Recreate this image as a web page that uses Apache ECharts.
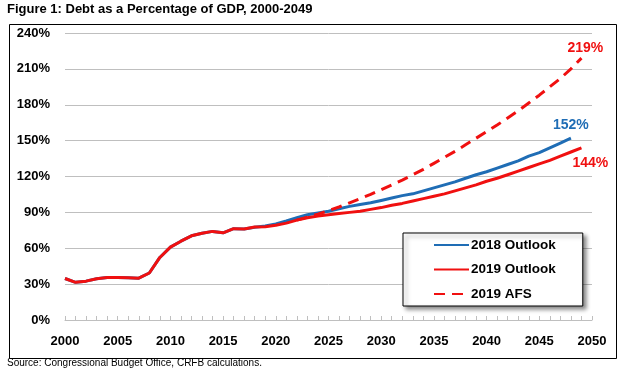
<!DOCTYPE html>
<html><head><meta charset="utf-8">
<script src="https://cdn.jsdelivr.net/npm/echarts@6/dist/echarts.min.js"></script>
<style>html,body{margin:0;padding:0;background:#fff;}#c{width:624px;height:378px;}</style>
</head><body><div id="c"></div>
<script>
var histYears = [2000,2001,2002,2003,2004,2005,2006,2007,2008,2009,2010,2011,2012,2013,2014,2015,2016,2017];
var histValues = [34.7,31.5,32.5,34.5,35.5,35.6,35.4,35.0,39.3,52.3,60.9,65.9,70.4,72.6,74.1,72.9,76.4,76.1];
var outlook2018Years = [2018,2019,2020,2021,2022,2023,2024,2025,2026,2027,2028,2029,2030,2031,2032,2033,2034,2035,2036,2037,2038,2039,2040,2041,2042,2043,2044,2045,2046,2047,2048];
var outlook2018Values = [77.6,78.6,80.3,82.8,85.5,88.0,89.5,91.0,93.0,95.0,96.5,98.0,100.0,102.0,104.0,105.5,108.0,110.5,113.0,115.5,118.5,121.5,124.0,127.0,130.0,133.0,137.0,140.0,144.0,148.0,152.0];
var outlook2019Years = [2018,2019,2020,2021,2022,2023,2024,2025,2026,2027,2028,2029,2030,2031,2032,2033,2034,2035,2036,2037,2038,2039,2040,2041,2042,2043,2044,2045,2046,2047,2048,2049];
var outlook2019Values = [77.8,78.0,79.2,81.0,83.5,85.5,87.0,88.0,89.0,90.0,91.0,92.5,94.0,96.0,97.5,99.5,101.5,103.5,105.5,108.0,110.5,113.0,116.0,118.5,121.5,124.5,127.5,130.5,133.5,137.0,140.5,144.0];
var afsYears = [2022,2023,2024,2025,2026,2027,2028,2029,2030,2031,2032,2033,2034,2035,2036,2037,2038,2039,2040,2041,2042,2043,2044,2045,2046,2047,2048,2049];
var afsValues = [83.5,86.0,88.5,91.5,94.5,98.0,101.5,105.0,109.0,113.0,117.0,121.5,126.0,131.0,136.0,141.0,146.5,152.0,157.5,163.0,169.0,175.0,181.5,188.0,195.0,202.0,210.0,219.0];
var seriesNames = ['2018 Outlook','2019 Outlook','2019 AFS'];
var endLabels = ['152%','144%','219%'];

function pairs(ys, vs){ return ys.map(function(y,i){ return [y, vs[i]]; }); }
var blueData = pairs(histYears, histValues).concat(pairs(outlook2018Years, outlook2018Values));
var redData = pairs(histYears, histValues).concat(pairs(outlook2019Years, outlook2019Values));
var afsData = pairs(afsYears, afsValues);

var BLUE = '#1F6DB5', RED = '#F01010';
var chart = echarts.init(document.getElementById('c'), null, {renderer:'canvas'});
var FONT = '"Liberation Sans", Arial, sans-serif';
chart.setOption({
  animation:false,
  backgroundColor:'#fff',
  textStyle:{fontFamily:FONT},
  grid:{left:65, right:32, top:33, bottom:58, containLabel:false},
  xAxis:{type:'value', min:2000, max:2050, interval:5,
    axisLine:{show:true, lineStyle:{color:'#BFBFBF', width:1}},
    axisTick:{show:true, inside:true, length:4, lineStyle:{color:'#BFBFBF'}},
    minorTick:{show:true, splitNumber:5, length:4, lineStyle:{color:'#BFBFBF'}},
    splitLine:{show:false},
    axisLabel:{color:'#000', fontWeight:'bold', fontSize:13, margin:15, fontFamily:FONT,
      formatter:function(v){return String(v);}}
  },
  yAxis:{type:'value', min:0, max:240, interval:30,
    axisLine:{show:false}, axisTick:{show:false},
    splitLine:{show:true, lineStyle:{color:'#BFBFBF', width:1}},
    axisLabel:{color:'#000', fontWeight:'bold', fontSize:13, margin:15, fontFamily:FONT,
      formatter:function(v){return v+'%';}}
  },
  legend:{orient:'vertical', left:403, top:233, width:152,
    padding:[5,27,5,30], itemWidth:35, itemHeight:14, itemGap:10.5,
    backgroundColor:'#fff', borderColor:'#000', borderWidth:1,
    shadowColor:'rgba(0,0,0,0.45)', shadowBlur:4, shadowOffsetX:3, shadowOffsetY:3,
    itemStyle:{opacity:0},
    textStyle:{color:'#000', fontWeight:'bold', fontSize:13.5, fontFamily:FONT, padding:[0,0,0,-3]},
    data:seriesNames},
  series:[
    {name:seriesNames[0], type:'line', data:blueData, symbol:'none', lineStyle:{color:BLUE, width:3}, itemStyle:{color:BLUE},
      endLabel:{show:true, formatter:endLabels[0], color:BLUE, fontWeight:'bold', fontSize:14, offset:[-26,-13], fontFamily:FONT}},
    {name:seriesNames[1], type:'line', data:redData, symbol:'none', lineStyle:{color:RED, width:3}, itemStyle:{color:RED},
      endLabel:{show:true, formatter:endLabels[1], color:RED, fontWeight:'bold', fontSize:14, offset:[-17,15], fontFamily:FONT}},
    {name:seriesNames[2], type:'line', data:afsData, symbol:'none', lineStyle:{color:RED, width:3, type:[11,7]}, itemStyle:{color:RED},
      endLabel:{show:true, formatter:endLabels[2], color:RED, fontWeight:'bold', fontSize:14, offset:[-22,-10], fontFamily:FONT}}
  ],
  graphic:[
    {type:'rect', left:7, top:22, shape:{width:607, height:334}, style:{fill:null, stroke:'#000', lineWidth:1}, silent:true, z:-1},
    {type:'text', left:7, top:3, style:{text:'Figure 1: Debt as a Percentage of GDP, 2000-2049', fill:'#000', font:'bold 13px '+FONT}},
    {type:'text', left:7, top:358, style:{text:'Source: Congressional Budget Office, CRFB calculations.', fill:'#000', font:'10px '+FONT}}
  ]
});
</script></body></html>
